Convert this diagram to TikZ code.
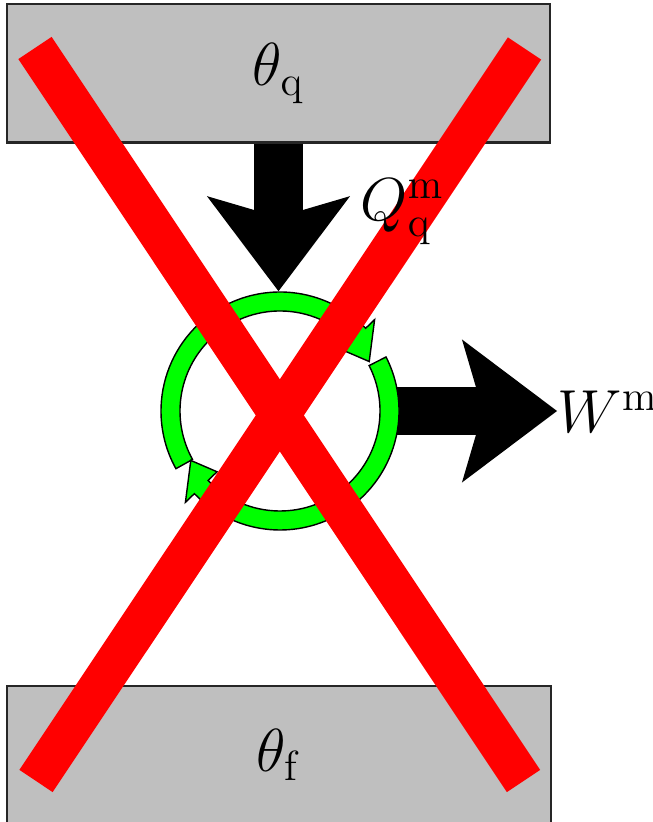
\documentclass[tikz,border=0pt]{standalone}
\usetikzlibrary{arrows.meta}
\tikzset{
  reservoir/.style={draw=black!85,fill=black!25,line width=0.6pt,minimum width=5.43cm,minimum height=1.38cm,inner sep=0pt},
  flux/.style={line width=0.48cm,-{Stealth[length=0.95cm,width=1.43cm,inset=0.21cm,line width=0pt]}},
  cycle part/.style={fill=green,draw=black,line width=0.4pt},
  barre/.style={red,line width=0.4cm,line cap=butt},
  grand/.style={font=\fontsize{17.28}{21}\selectfont,inner sep=0pt}
}
\begin{document}
\begin{tikzpicture}[x=0.01cm,y=0.01cm]
        \useasboundingbox (0,0) rectangle (652,822);
        % Réservoirs chaud et froid
        \node[reservoir,grand] (chaud) at (278.5,748.5) {$\theta_{\mathrm{q}}$};
        \node[reservoir,grand] (froid) at (279,67) {$\theta_{\mathrm{f}}$};
        % Moteur (cycle)
        \node[circle,minimum size=2.38cm,inner sep=0pt] (moteur) at (280,411) {};
        % Étiquettes des transferts
        \node[grand,anchor=base west] (travail) at (557,389) {$W^{\mathrm{m}}$};
        % Flux de chaleur et travail
        \draw[flux] (chaud.south) -- (chaud.south |- moteur.north);
        \draw[flux,shorten <=-4] (moteur.east) -- (moteur.east -| travail.west);
        % Arcs du cycle avec flèches
        \begin{scope}[shift={(moteur.center)}]
          \filldraw[cycle part] (209:119) arc[start angle=209,end angle=44,radius=119]
            -- (44:131.5) -- (29:102) -- (44:87.5) -- (44:100)
            arc[start angle=44,end angle=209,radius=100] -- cycle;
          \filldraw[cycle part] (27:119) arc[start angle=27,end angle=-136,radius=119]
            -- (-136:131.5) -- (-151:102) -- (-136:87.5) -- (-136:100)
            arc[start angle=-136,end angle=27,radius=100] -- cycle;
        \end{scope}
        % Croix rouge
        \draw[barre] (35,774) -- (523.5,41);
        \draw[barre] (524.5,773.5) -- (36,41);
        % Chaleur reçue
        \node[grand,anchor=base west] (chaleur) at (360,601) {$Q^{\mathrm{m}}_{\mathrm{q}}$};
\end{tikzpicture}
\end{document}
